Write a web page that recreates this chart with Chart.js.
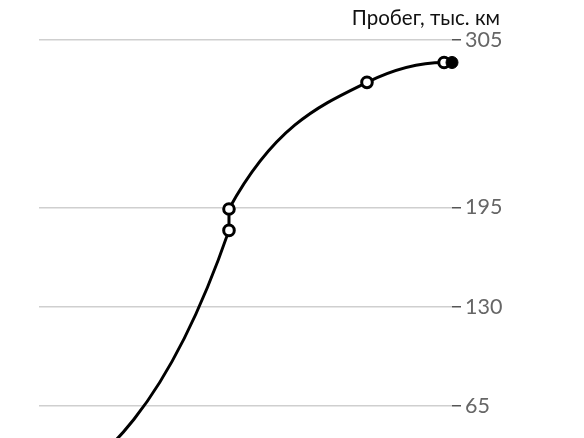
<!DOCTYPE html>
<html>
<head>
<meta charset="utf-8">
<script src="https://cdn.jsdelivr.net/npm/chart.js@4"></script>
<style>
html,body{margin:0;padding:0;background:#fff;overflow:hidden;}
#wrap{position:relative;width:584px;height:522px;}
</style>
</head>
<body>
<div id="wrap"><canvas id="mileage"></canvas></div>
<script>
window.addEventListener("load", () => {

/* ========= DATA ========= */

// x = time, decimal years (no x axis is shown, positions estimated)
const years = [2012.0, 2017.52, 2017.52, 2021.53, 2023.77, 2024.0];
// пробег, тыс. км
const mileage = [0, 180, 194, 277, 290, 290];
const yTicks = [0, 65, 130, 195, 305];
const yMax = 305;

/* ========= d3-like monotoneX curve ========= */

const monotoneX = {
id:"monotoneX",
beforeDatasetDraw(chart,args){
const line=args.meta.dataset;
const p=args.meta.data;
const n=p.length;
line.updateControlPoints(chart.chartArea,"x");
const sign=v=>v<0?-1:1;
const m=new Array(n).fill(0);
for(let i=1;i<n-1;i++){
const h0=p[i].x-p[i-1].x, h1=p[i+1].x-p[i].x;
const s0=(p[i].y-p[i-1].y)/(h0 || (h1<0 && -0));
const s1=(p[i+1].y-p[i].y)/(h1 || (h0<0 && -0));
const q=(s0*h1+s1*h0)/(h0+h1);
m[i]=(sign(s0)+sign(s1))*Math.min(Math.abs(s0),Math.abs(s1),0.5*Math.abs(q)) || 0;
}
if(n>1){
let h=p[1].x-p[0].x;
m[0]=h ? (3*(p[1].y-p[0].y)/h-m[1])/2 : m[1];
h=p[n-1].x-p[n-2].x;
m[n-1]=h ? (3*(p[n-1].y-p[n-2].y)/h-m[n-2])/2 : m[n-2];
if(n===2){m[0]=m[1]=(p[1].y-p[0].y)/(h||1);}
}
for(let i=0;i<n-1;i++){
const a=p[i], b=p[i+1];
const dx=(b.x-a.x)/3;
a.cp2x=a.x+dx; a.cp2y=a.y+dx*m[i];
b.cp1x=b.x-dx; b.cp1y=b.y-dx*m[i+1];
}
p[0].cp1x=p[0].x; p[0].cp1y=p[0].y;
p[n-1].cp2x=p[n-1].x; p[n-1].cp2y=p[n-1].y;
line._path=undefined;
}
};

// title ends where the tick labels end, not at the axis box edge
const titleShift = {
id:"titleShift",
afterLayout(chart){
const t=chart.titleBlock;
if(t){t.right=chart.chartArea.right+48;}
}
};

/* ========= CHART ========= */

const last=mileage.length-1;
const pointFill=mileage.map((v,i)=>i===last?"#000":"#fff");
const pointSize=mileage.map((v,i)=>i===last?6:5.3);
const pointLine=mileage.map((v,i)=>i===last?1:3);

new Chart(document.getElementById("mileage").getContext("2d"),{
type:"line",
data:{
datasets:[{
data:years.map((x,i)=>({x:x,y:mileage[i]})),
borderColor:"#000",
borderWidth:3,
tension:0.4,
clip:false,
pointRadius:pointSize,
pointBorderWidth:pointLine,
pointBorderColor:"#000",
pointBackgroundColor:pointFill,
fill:false
}]
},
options:{
responsive:true,
maintainAspectRatio:false,
animation:false,
events:[],
layout:{padding:{left:39,right:74,top:0,bottom:16}},
plugins:{
legend:{display:false},
tooltip:{enabled:false},
title:{
display:true,
text:"Пробег, тыс. км",
align:"end",
color:"#111",
font:{family:"Lato",size:20.5,weight:"normal",lineHeight:1.2},
padding:{top:6,bottom:9}
}
},
scales:{
x:{
type:"linear",
display:false,
min:years[0],
max:years[years.length-1]
},
y:{
position:"right",
min:0,
max:yMax,
afterBuildTicks:s=>{s.ticks=yTicks.map(v=>({value:v}));},
afterFit:s=>{s.width=58;},
border:{display:false},
grid:{color:"#cfcfcf",lineWidth:1.5,tickColor:"#555",tickLength:9,tickWidth:1.5},
ticks:{color:"#666",padding:4,font:{family:"Lato",size:21.5}}
}
}
},
plugins:[monotoneX,titleShift]
});

});
</script>
</body>
</html>
